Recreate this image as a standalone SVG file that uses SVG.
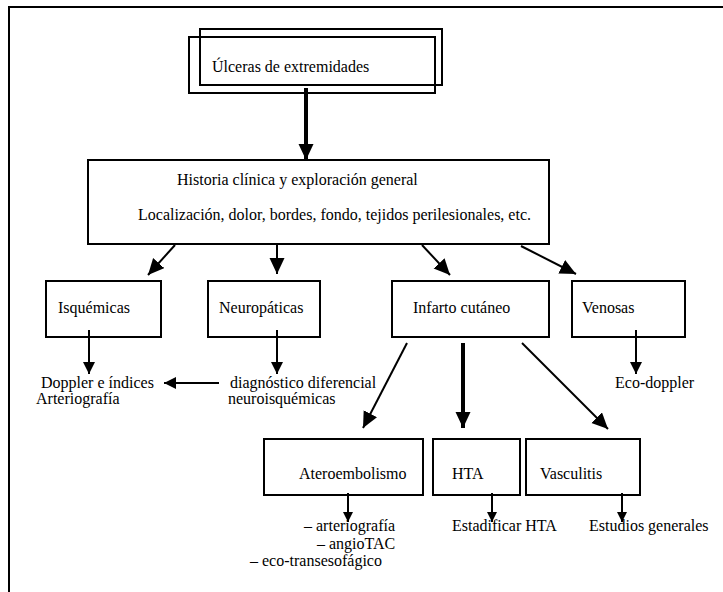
<svg xmlns="http://www.w3.org/2000/svg" width="723" height="592" viewBox="0 0 723 592">
<defs>
<style>
text{font-family:"Liberation Serif","Times New Roman",serif;font-size:16px;fill:#000}
.box{fill:none;stroke:#000;stroke-width:2}
.c{stroke:#000;stroke-width:2;fill:none}
.thick{stroke:#000;stroke-width:4;fill:none}
</style>
<marker id="big" markerUnits="userSpaceOnUse" markerWidth="17" markerHeight="16" refX="16" refY="7.5" orient="auto"><path d="M0,0 L16,7.5 L0,15 Z" fill="#000"/></marker>
<marker id="mid" markerUnits="userSpaceOnUse" markerWidth="13" markerHeight="13" refX="12" refY="6" orient="auto"><path d="M0,0 L12,6 L0,12 Z" fill="#000"/></marker>
<marker id="small" markerUnits="userSpaceOnUse" markerWidth="11" markerHeight="11" refX="10" refY="5" orient="auto"><path d="M0,0 L10,5 L0,10 Z" fill="#000"/></marker>
</defs>
<rect width="723" height="592" fill="#fff"/>
<g id="frame"><path d="M9,592 L9,7 L723,7" class="c"/></g>
<g id="ulceras">
<rect x="200" y="29" width="242" height="56" class="box" stroke-width="1.5"/>
<rect x="189" y="37" width="246" height="56" class="box"/>
<text x="212" y="72">Úlceras de extremidades</text>
</g>
<g id="historia">
<rect x="88" y="160" width="461" height="84" class="box"/>
<text x="177" y="185">Historia clínica y exploración general</text>
<text x="138" y="220">Localización, dolor, bordes, fondo, tejidos perilesionales, etc.</text>
</g>
<g id="isquemicas"><rect x="46" y="281" width="115" height="56" class="box"/><text x="58" y="313">Isquémicas</text></g>
<g id="neuropaticas"><rect x="208" y="281" width="112" height="56" class="box"/><text x="219" y="313">Neuropáticas</text></g>
<g id="infarto"><rect x="392" y="281" width="157" height="56" class="box"/><text x="413" y="313">Infarto cutáneo</text></g>
<g id="venosas"><rect x="572" y="281" width="113" height="56" class="box"/><text x="582" y="313">Venosas</text></g>
<g id="doppler"><text x="41" y="388">Doppler e índices</text><text x="36" y="404">Arteriografía</text></g>
<g id="diagnostico"><text x="230" y="388">diagnóstico diferencial</text><text x="228" y="404">neuroisquémicas</text></g>
<g id="ecodoppler"><text x="615" y="388">Eco-doppler</text></g>
<g id="ateroembolismo"><rect x="264" y="439" width="159" height="56" class="box"/><text x="299" y="479">Ateroembolismo</text></g>
<g id="hta"><rect x="433" y="439" width="87" height="56" class="box"/><text x="452" y="479">HTA</text></g>
<g id="vasculitis"><rect x="526" y="439" width="114" height="56" class="box"/><text x="540" y="479">Vasculitis</text></g>
<g id="atero-tests"><text x="304" y="531">– arteriografía</text><text x="317" y="549">– angioTAC</text><text x="250" y="566">– eco-transesofágico</text></g>
<g id="estadificar"><text x="452" y="531">Estadificar HTA</text></g>
<g id="estudios"><text x="589" y="531">Estudios generales</text></g>
<g id="connectors">
<line x1="306" y1="88" x2="306" y2="160" class="thick" marker-end="url(#big)"/>
<line x1="175" y1="245" x2="148" y2="275" class="c" marker-end="url(#big)"/>
<line x1="277" y1="245" x2="277" y2="274" class="c" marker-end="url(#big)"/>
<line x1="422" y1="245" x2="450" y2="275" class="c" marker-end="url(#big)"/>
<line x1="521" y1="246" x2="576" y2="274" class="c" marker-end="url(#big)"/>
<line x1="89" y1="330" x2="89" y2="374" class="c" marker-end="url(#mid)"/>
<line x1="277" y1="330" x2="277" y2="374" class="c" marker-end="url(#mid)"/>
<line x1="636" y1="330" x2="636" y2="374" class="c" marker-end="url(#mid)"/>
<line x1="219" y1="383" x2="164" y2="383" class="c" marker-end="url(#mid)"/>
<line x1="407" y1="343" x2="363" y2="428" class="c" marker-end="url(#big)"/>
<line x1="463" y1="343" x2="463" y2="428" class="thick" marker-end="url(#big)"/>
<line x1="522" y1="343" x2="608" y2="429" class="c" marker-end="url(#big)"/>
<line x1="348" y1="493" x2="348" y2="522" class="c" marker-end="url(#small)"/>
<line x1="492" y1="493" x2="492" y2="522" class="c" marker-end="url(#small)"/>
<line x1="622" y1="493" x2="622" y2="522" class="c" marker-end="url(#small)"/>
</g>
</svg>
